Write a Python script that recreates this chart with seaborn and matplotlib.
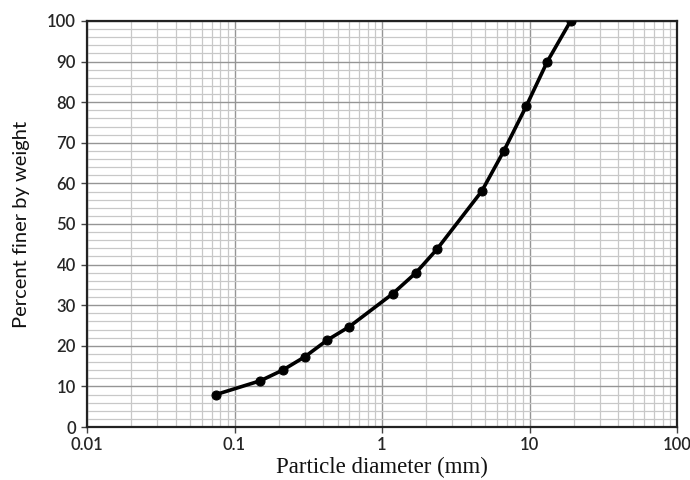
import matplotlib
matplotlib.use("Agg")
import matplotlib.pyplot as plt
import seaborn as sns
import pandas as pd
import numpy as np
from matplotlib.ticker import LogLocator, MultipleLocator, FixedLocator, FixedFormatter

diameter_mm = [0.075, 0.15, 0.212, 0.3, 0.425, 0.6, 1.18, 1.7, 2.36, 4.75, 6.7, 9.5, 13.2, 19.0]
percent_finer = [8.0, 11.4, 14.0, 17.3, 21.4, 24.7, 32.8, 38.0, 43.8, 58.1, 68.0, 79.0, 90.0, 100.0]
x_tick_values = [0.01, 0.1, 1, 10, 100]
x_tick_labels = ["0.01", "0.1", "1", "10", "100"]
y_tick_values = [0, 10, 20, 30, 40, 50, 60, 70, 80, 90, 100]

df = pd.DataFrame({"d": diameter_mm, "p": percent_finer})

sns.set_style("white")
fig = plt.figure(figsize=(6.9, 4.8), dpi=100)
ax = fig.add_axes([87/690, 53/480, 590/690, 406/480])

sns.lineplot(data=df, x="d", y="p", ax=ax, color="black", linewidth=2.6,
             marker="o", markersize=6.5, markeredgecolor="black", zorder=5)

ax.set_xscale("log")
ax.set_xlim(0.01, 100)
ax.set_ylim(0, 100)
ax.xaxis.set_major_locator(FixedLocator(x_tick_values))
ax.xaxis.set_major_formatter(FixedFormatter(x_tick_labels))
ax.xaxis.set_minor_locator(LogLocator(base=10, subs=np.arange(2, 10)))
ax.xaxis.set_minor_formatter(plt.NullFormatter())
ax.yaxis.set_major_locator(FixedLocator(y_tick_values))
ax.yaxis.set_minor_locator(MultipleLocator(2))

ax.grid(which="major", color="#959595", linewidth=1.0)
ax.grid(which="minor", color="#c8c8c8", linewidth=0.9)
ax.set_axisbelow(True)

for s in ax.spines.values():
    s.set_color("#222222")
    s.set_linewidth(1.6)
    s.set_visible(True)

tick_font = ["Lato", "DejaVu Sans"]
ax.tick_params(axis="both", which="major", length=4, width=1, color="#444444",
               labelsize=12, direction="out", bottom=True, left=True)
ax.tick_params(axis="y", which="major", pad=4)
ax.tick_params(axis="x", which="major", pad=3)
ax.tick_params(axis="both", which="minor", length=0)
for lab in ax.get_xticklabels() + ax.get_yticklabels():
    lab.set_family(tick_font)
    lab.set_weight("semibold")
    lab.set_color("#262626")

ax.set_xlabel("Particle diameter (mm)", family=["Liberation Serif", "DejaVu Serif"],
              fontsize=16.5, color="#111111", labelpad=3)
ax.set_ylabel("Percent finer by weight", family=["Lato", "DejaVu Sans"],
              fontsize=14.5, color="#111111", labelpad=12)

fig.savefig("out.png", dpi=100)
